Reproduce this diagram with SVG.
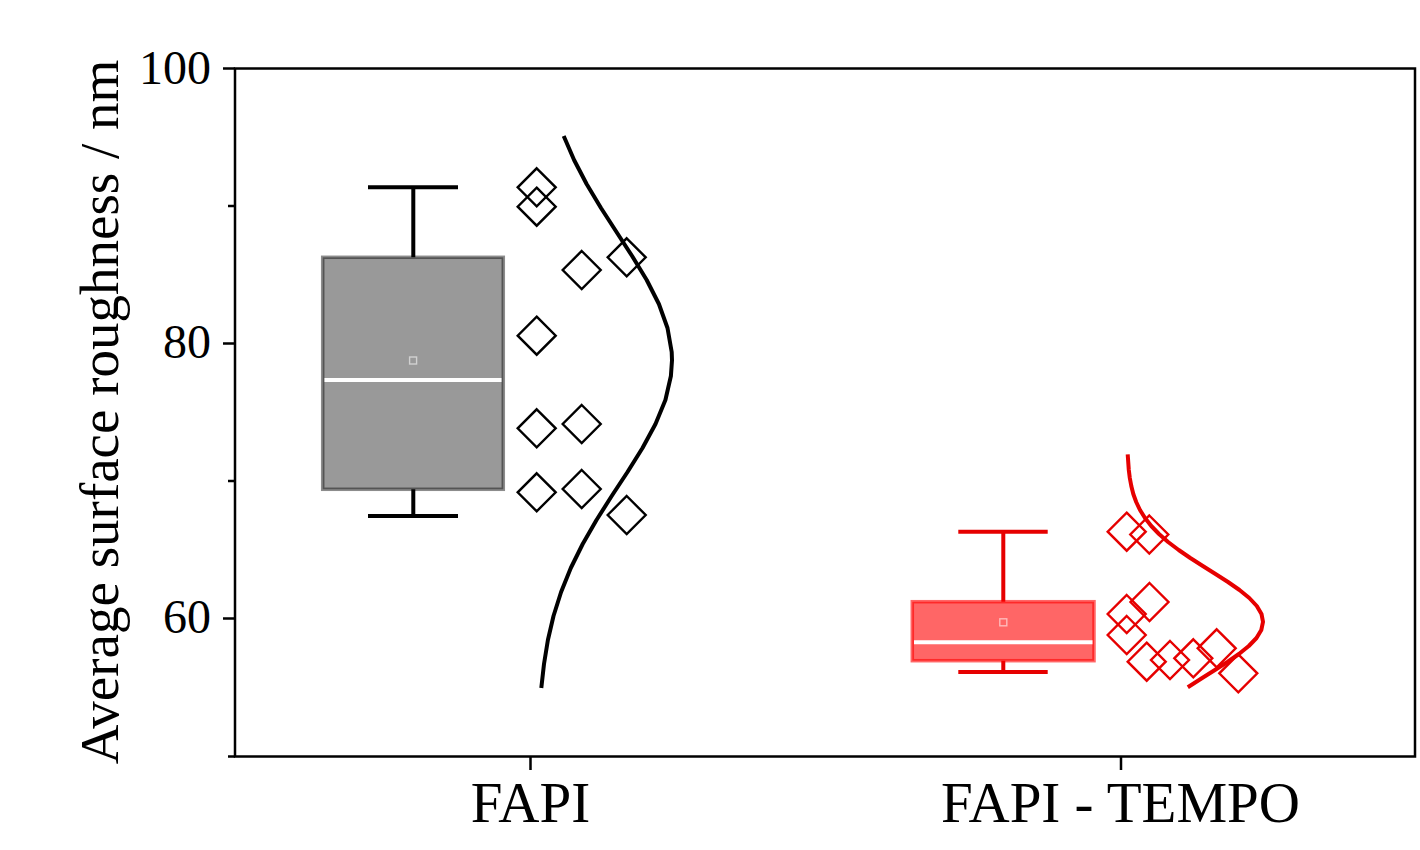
<svg xmlns="http://www.w3.org/2000/svg" xmlns:xlink="http://www.w3.org/1999/xlink" width="1420" height="850" viewBox="0 0 1420 850">
<style>
.t{font-family:"Liberation Serif","Times New Roman",serif;fill:#000}
.tick{font-size:48px;text-anchor:end}
.cat{font-size:57px;text-anchor:middle}
.ax{stroke:#000;stroke-width:2.5;fill:none}
.dk{stroke:#000;stroke-width:2.4;fill:none}
.dr{stroke:#e60000;stroke-width:2.4;fill:none}
.med{stroke:#fff;stroke-width:4}
.mean{fill:none;stroke:#fff;stroke-opacity:0.55;stroke-width:1.4}
</style>
<defs>
<path id="dia" d="M0,-19 L19,0 L0,19 L-19,0 Z"/>
</defs>
<rect width="1420" height="850" fill="#fff"/>
<g id="axes">
<rect class="ax" x="235" y="68.5" width="1180" height="688"/>
<path class="ax" d="M223,68.5H235M223,343.5H235M223,618.5H235M228,206H235M228,481H235M228,756.5H235M530.5,756.5V770M1121,756.5V770"/>
<text class="t tick" x="211" y="84">100</text>
<text class="t tick" x="211" y="358">80</text>
<text class="t tick" x="211" y="633">60</text>
<text class="t" font-size="55" text-anchor="middle" transform="translate(118,412) rotate(-90)">Average surface roughness / nm</text>
<text class="t cat" x="530.5" y="822">FAPI</text>
<text class="t cat" x="1120.5" y="822">FAPI - TEMPO</text>
</g>
<g id="fapi">
<path d="M368,187.3H458M413.3,187.3V257.3M413.3,489.3V516M368,516H458" stroke="#000" stroke-width="4" fill="none"/>
<rect x="322.7" y="257.3" width="180.6" height="232" fill="#000" fill-opacity="0.4" stroke="#000" stroke-opacity="0.45" stroke-width="3.5"/>
<line class="med" x1="324.5" y1="380" x2="501.5" y2="380"/>
<rect class="mean" x="409.6" y="357" width="7" height="7"/>
<g class="dk">
<use xlink:href="#dia" x="536.7" y="187.3"/>
<use xlink:href="#dia" x="536.7" y="206.7"/>
<use xlink:href="#dia" x="626.7" y="257.3"/>
<use xlink:href="#dia" x="581.7" y="270"/>
<use xlink:href="#dia" x="536.7" y="335.7"/>
<use xlink:href="#dia" x="536.7" y="428.3"/>
<use xlink:href="#dia" x="581.7" y="424"/>
<use xlink:href="#dia" x="536.7" y="492.3"/>
<use xlink:href="#dia" x="581.7" y="489"/>
<use xlink:href="#dia" x="626.7" y="515"/>
</g>
<polyline fill="none" stroke="#000" stroke-width="4" stroke-linejoin="round" points="563.7,136 574.1,160 586.6,184 601,208 616.5,232 632.1,256 646.7,280 658.9,304 667.5,328 671.7,352 672,360.4 670.9,376 665.4,400 655.5,424 642.5,448 627.5,472 611.7,496 596.5,520 582.7,544 570.8,568 561.1,592 553.5,616 547.9,640 544,664 541.3,688"/>
</g>
<g id="fapi-tempo">
<path d="M958.3,531.7H1047.7M1003.3,531.7V601.7M1003.3,660.7V672M958.3,672H1047.7" stroke="#e60000" stroke-width="4" fill="none"/>
<rect x="912.3" y="601.7" width="181.7" height="59" fill="#ff0000" fill-opacity="0.6" stroke="#ff0000" stroke-opacity="0.6" stroke-width="3.5"/>
<line class="med" x1="914" y1="642.3" x2="1092.5" y2="642.3"/>
<rect class="mean" x="999.8" y="618.8" width="7" height="7"/>
<g class="dr">
<use xlink:href="#dia" x="1126.7" y="531.7"/>
<use xlink:href="#dia" x="1149.3" y="534.5"/>
<use xlink:href="#dia" x="1149.5" y="602"/>
<use xlink:href="#dia" x="1126.7" y="614"/>
<use xlink:href="#dia" x="1126.7" y="635"/>
<use xlink:href="#dia" x="1146.7" y="661.7"/>
<use xlink:href="#dia" x="1170" y="660"/>
<use xlink:href="#dia" x="1193.3" y="658.3"/>
<use xlink:href="#dia" x="1216.7" y="648.3"/>
<use xlink:href="#dia" x="1238.3" y="673.3"/>
</g>
<polyline fill="none" stroke="#e60000" stroke-width="4" stroke-linejoin="round" points="1127.7,454.3 1128.8,470 1129.8,478 1131.3,486 1133.3,494 1136.2,502 1140,510 1145,518 1151.3,526 1159,534 1168.1,542 1178.7,550 1190.3,558 1202.8,566 1215.5,574 1228,582 1239.5,590 1249.3,598 1256.8,606 1261.5,614 1263,621.8 1261.3,630 1256.5,638 1248.8,646 1238.9,654 1227.4,662 1214.9,670 1202.2,678 1187.8,687.3"/>
</g>
</svg>
